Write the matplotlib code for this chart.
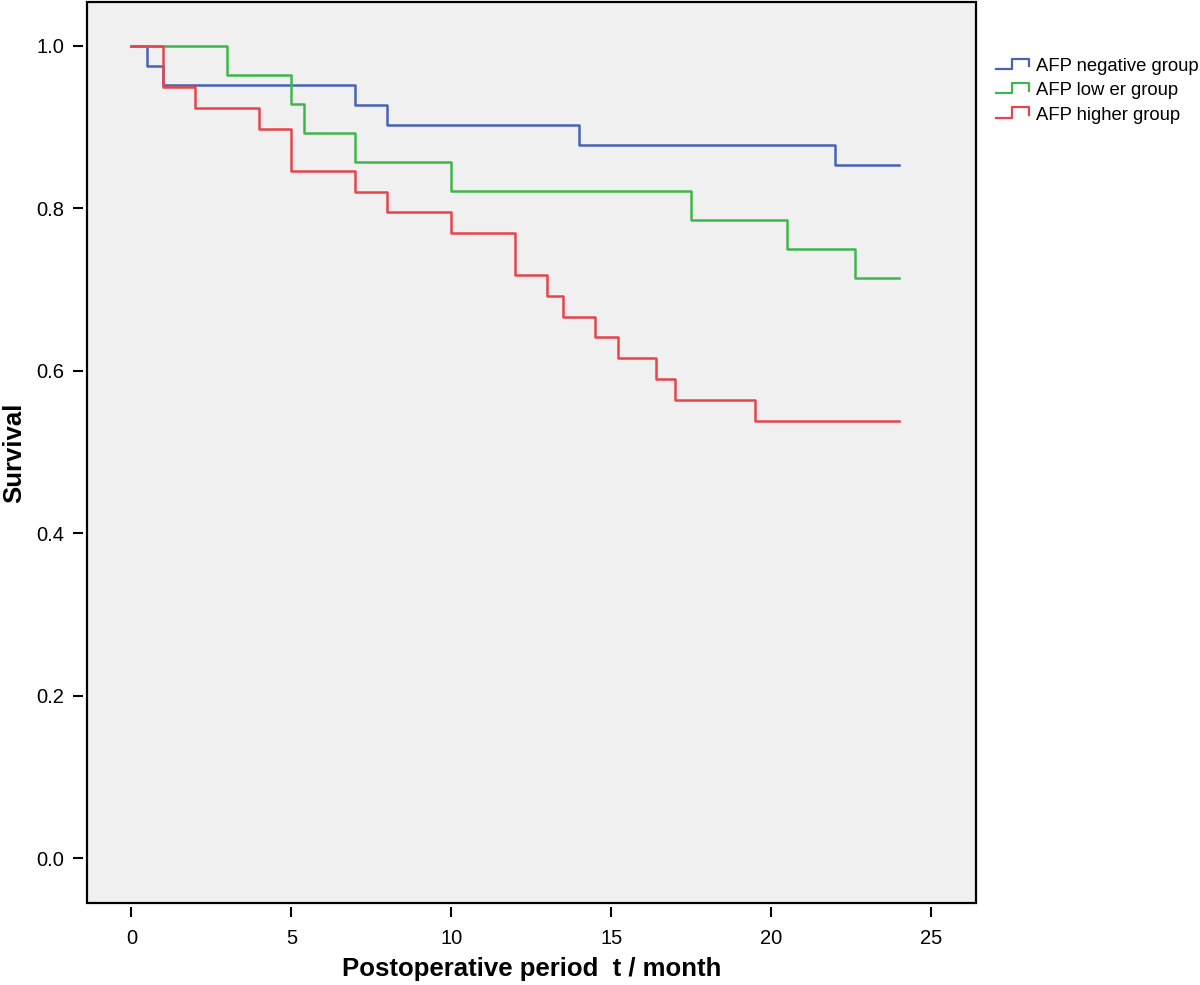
import matplotlib
matplotlib.use('Agg')
import matplotlib.pyplot as plt
from matplotlib.legend_handler import HandlerBase
from matplotlib.lines import Line2D

plt.rcParams['font.family'] = ['Liberation Sans', 'DejaVu Sans']

# Kaplan-Meier estimates
neg_t = [0, 0.5, 1, 7, 8, 14, 22, 24]
neg_s = [1.0, 0.9756, 0.9512, 0.9268, 0.9024, 0.8780, 0.8537, 0.8537]

low_t = [0, 3, 5, 5.4, 7, 10, 17.5, 20.5, 22.6, 24]
low_s = [1.0, 0.9643, 0.9286, 0.8929, 0.8571, 0.8214, 0.7857, 0.75, 0.7143, 0.7143]

high_t = [0, 1, 2, 4, 5, 7, 8, 10, 12, 13, 13.5, 14.5, 15.2, 16.4, 17, 19.5, 24]
high_s = [1.0, 0.9487, 0.9231, 0.8974, 0.8462, 0.8205, 0.7949, 0.7692, 0.7179,
          0.6923, 0.6667, 0.6410, 0.6154, 0.5897, 0.5641, 0.5385, 0.5385]

labels = ['AFP negative group', 'AFP low er group', 'AFP higher group']
colors = ['#4862b4', '#3fb64c', '#e8434b']
xticks = [0, 5, 10, 15, 20, 25]
yticks = [0.0, 0.2, 0.4, 0.6, 0.8, 1.0]


class StepHandler(HandlerBase):
    # little step glyph like the SPSS legend
    def create_artists(self, legend, orig_handle, xdescent, ydescent,
                       width, height, fontsize, trans):
        lo = height * 0.15 - ydescent
        hi = height * 0.95 - ydescent
        xs = [-xdescent, -xdescent + 0.48 * width, -xdescent + 0.48 * width,
              -xdescent + width, -xdescent + width]
        ys = [lo, lo, hi, hi, lo + 0.25 * (hi - lo)]
        ln = Line2D(xs, ys, color=orig_handle.get_color(), lw=1.6, transform=trans)
        return [ln]


fig = plt.figure(figsize=(12, 9.85), dpi=100)
ax = fig.add_axes([0.0725, 0.0832, 0.7408, 0.9148])
ax.set_facecolor('#f0f0f0')

lines = []
for t, s, c, lab in zip([neg_t, low_t, high_t], [neg_s, low_s, high_s], colors, labels):
    ln, = ax.step(t, s, where='post', color=c, lw=1.8, label=lab)
    lines.append(ln)

ax.set_xlim(-1.39, 26.39)
ax.set_ylim(-0.0554, 1.054)
ax.set_xticks(xticks)
ax.set_xticklabels([str(v) for v in xticks])
ax.set_yticks(yticks)
ax.set_yticklabels(['%.1f' % v for v in yticks])

# frame drawn by the patch, ticks sit a bit outside it
ax.patch.set_edgecolor('black')
ax.patch.set_linewidth(1.6)
for side in ['left', 'bottom']:
    ax.spines[side].set_position(('outward', 3))
    ax.spines[side].set_color('none')
for side in ['right', 'top']:
    ax.spines[side].set_visible(False)

ax.tick_params(direction='out', length=7.5, width=1.5, labelsize=14.5, colors='black')
ax.tick_params(axis='x', pad=8)
ax.tick_params(axis='y', pad=6)

ax.set_xlabel('Postoperative period  t / month', fontsize=18.5, fontweight='bold', labelpad=7)
ax.set_ylabel('Survival', fontsize=18.5, fontweight='bold', labelpad=7)

fig.legend(handles=lines, labels=labels, loc='upper left',
           bbox_to_anchor=(996 / 1200, (985 - 58) / 985), frameon=False,
           fontsize=13.3, borderpad=0, borderaxespad=0, handlelength=1.8,
           handletextpad=0.35, labelspacing=0.4,
           handler_map={Line2D: StepHandler()})

plt.savefig('out.png')
